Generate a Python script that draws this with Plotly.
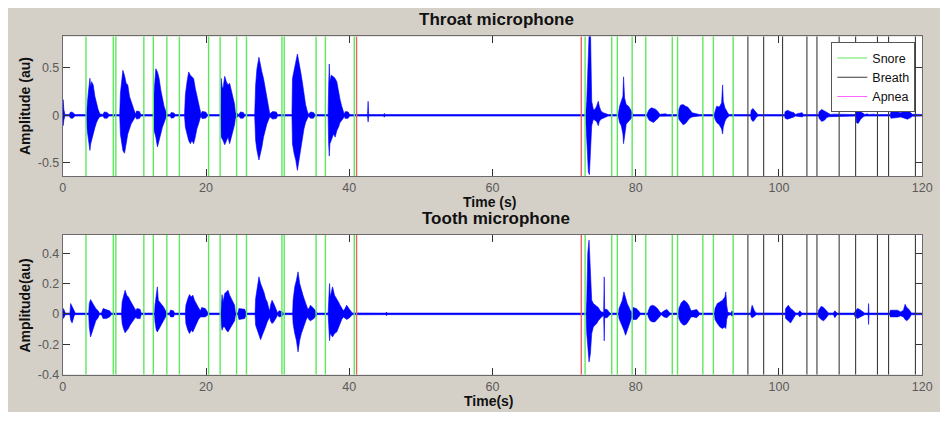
import plotly.graph_objects as go

# Page: the browser's default 8px body margin supplies the white border at
# the top and left, so the figure itself is the grey MATLAB panel.
W, H = 940, 404
OFF = 8  # body margin (px)

# ---------------- data ----------------
# Throat microphone amplitude envelope: time (s), upper and lower bound (au)
throat_t = [0.0, 0.05, 0.15, 0.3, 0.9, 1.1, 1.4, 1.7,
            3.3, 3.4, 3.56, 3.79, 3.9, 4.02, 4.25, 4.48, 4.71, 4.94, 5.17,
            5.6, 5.8, 6.2, 6.45,
            7.95, 8.05, 8.16, 8.39, 8.62, 8.85, 9.08, 9.31, 9.54, 9.77, 10.0, 10.15,
            10.3, 10.7, 10.9,
            12.65, 12.76, 12.99, 13.22, 13.45, 13.68, 13.91, 14.14, 14.37, 14.5,
            15.0, 15.15, 15.5, 15.7,
            17.0, 17.12, 17.35, 17.58, 17.81, 18.04, 18.27, 18.5, 18.72, 18.95, 19.18, 19.3,
            19.45, 19.95, 20.2,
            22.05, 22.12, 22.25, 22.38, 22.61, 22.84, 23.07, 23.3, 23.52, 23.75, 23.98, 24.1,
            24.6, 24.8, 25.2, 25.4,
            26.8, 26.93, 27.11, 27.39, 27.57, 27.8, 28.03, 28.26, 28.49, 28.72, 28.9,
            29.3, 29.8, 30.0,
            32.0, 32.07, 32.3, 32.53, 32.76, 32.99, 33.22, 33.44, 33.67, 33.9, 34.13, 34.3,
            34.6, 35.0, 35.2,
            37.05, 37.12, 37.21, 37.3, 37.48, 37.8, 38.03, 38.26, 38.49, 38.72, 38.95, 39.18, 39.3,
            39.45, 39.85, 40.05,
            42.55, 42.63, 42.72, 44.8, 44.9, 45.0,
            73.0, 73.16, 73.3, 73.39, 73.53, 73.67, 73.76, 73.85, 74.08, 74.31, 74.54, 74.77,
            74.91, 75.14, 75.46, 75.92, 76.15,
            77.55, 77.62, 77.75, 77.98, 78.21, 78.3, 78.44, 78.67, 78.99, 79.27, 79.5, 79.65,
            81.6, 81.65, 81.88, 82.2, 82.48, 82.8, 83.12, 83.35, 84.2, 84.4,
            85.95, 86.02, 86.25, 86.62, 86.94, 87.26, 87.53, 87.86, 88.77, 88.9,
            90.95, 91.07, 91.3, 91.67, 91.99, 92.13, 92.22, 92.45, 92.68, 92.91, 93.05,
            96.05, 96.12, 96.35, 96.58, 96.8, 97.03, 97.2,
            100.8, 100.85, 101.17, 101.63, 102.09, 102.3, 102.55, 103.24, 103.4,
            105.55, 105.6, 105.97, 106.35, 106.67, 106.99, 107.2, 107.6, 108.04, 108.2,
            110.75, 110.81, 111.05, 111.41, 111.73, 112.0, 112.33, 112.5, 113.3, 113.45,
            115.55, 115.63, 116.1, 116.55, 117.01, 117.47, 117.93, 118.39, 118.62, 120.0]
throat_up = [0.008, 0.165, 0.06, 0.008, 0.008, 0.035, 0.03, 0.008,
             0.008, 0.15, 0.234, 0.39, 0.3, 0.354, 0.32, 0.2, 0.11, 0.06, 0.015,
             0.008, 0.035, 0.03, 0.008,
             0.008, 0.234, 0.32, 0.474, 0.42, 0.337, 0.32, 0.2, 0.148, 0.096, 0.045, 0.012,
             0.045, 0.04, 0.008,
             0.008, 0.25, 0.49, 0.457, 0.388, 0.268, 0.165, 0.096, 0.045, 0.01,
             0.008, 0.03, 0.025, 0.008,
             0.008, 0.216, 0.354, 0.457, 0.423, 0.405, 0.388, 0.285, 0.2, 0.113, 0.045, 0.01,
             0.04, 0.035, 0.008,
             0.008, 0.39, 0.3, 0.285, 0.41, 0.354, 0.32, 0.337, 0.268, 0.2, 0.12, 0.03,
             0.008, 0.035, 0.03, 0.008,
             0.008, 0.32, 0.49, 0.612, 0.526, 0.457, 0.388, 0.285, 0.165, 0.079, 0.015,
             0.04, 0.035, 0.008,
             0.008, 0.388, 0.491, 0.56, 0.646, 0.526, 0.457, 0.354, 0.216, 0.113, 0.045, 0.01,
             0.035, 0.03, 0.008,
             0.008, 0.3, 0.54, 0.354, 0.423, 0.405, 0.388, 0.354, 0.251, 0.165, 0.096, 0.038, 0.01,
             0.04, 0.035, 0.008,
             0.008, 0.148, 0.008, 0.008, 0.02, 0.008,
             0.008, 0.148, 0.7, 0.95, 0.95, 0.95, 0.491, 0.148, 0.062, 0.062, 0.096, 0.148,
             0.096, 0.045, 0.027, 0.017, 0.008,
             0.008, 0.045, 0.096, 0.148, 0.2, 0.405, 0.182, 0.113, 0.096, 0.062, 0.027, 0.008,
             0.008, 0.027, 0.062, 0.079, 0.072, 0.062, 0.038, 0.01, 0.015, 0.008,
             0.008, 0.062, 0.107, 0.113, 0.096, 0.086, 0.062, 0.027, 0.01, 0.008,
             0.008, 0.045, 0.096, 0.086, 0.131, 0.32, 0.148, 0.079, 0.038, 0.017, 0.008,
             0.008, 0.052, 0.072, 0.052, 0.027, 0.01, 0.008,
             0.008, 0.038, 0.052, 0.038, 0.027, 0.008, 0.017, 0.027, 0.008,
             0.008, 0.038, 0.062, 0.045, 0.027, 0.017, 0.008, 0.012, 0.012, 0.008,
             0.008, 0.107, 0.062, 0.038, 0.017, 0.008, 0.015, 0.008, 0.012, 0.008,
             0.008, 0.038, 0.045, 0.038, 0.027, 0.045, 0.052, 0.027, 0.01, 0.008]
throat_lo = [-0.008, -0.11, -0.05, -0.008, -0.008, -0.03, -0.03, -0.008,
             -0.008, -0.15, -0.265, -0.37, -0.3, -0.265, -0.196, -0.13, -0.075, -0.04, -0.015,
             -0.008, -0.03, -0.03, -0.008,
             -0.008, -0.2, -0.265, -0.37, -0.4, -0.3, -0.196, -0.144, -0.093, -0.058, -0.03, -0.012,
             -0.04, -0.035, -0.008,
             -0.008, -0.162, -0.23, -0.333, -0.265, -0.196, -0.127, -0.075, -0.031, -0.01,
             -0.008, -0.03, -0.025, -0.008,
             -0.008, -0.127, -0.196, -0.265, -0.299, -0.265, -0.299, -0.23, -0.144, -0.093, -0.031, -0.01,
             -0.035, -0.03, -0.008,
             -0.008, -0.23, -0.25, -0.265, -0.31, -0.265, -0.23, -0.299, -0.23, -0.18, -0.1, -0.03,
             -0.008, -0.03, -0.03, -0.008,
             -0.008, -0.265, -0.368, -0.471, -0.419, -0.333, -0.23, -0.162, -0.093, -0.05, -0.015,
             -0.04, -0.035, -0.008,
             -0.008, -0.299, -0.402, -0.471, -0.58, -0.505, -0.368, -0.265, -0.144, -0.075, -0.041, -0.01,
             -0.03, -0.03, -0.008,
             -0.008, -0.3, -0.43, -0.299, -0.265, -0.196, -0.23, -0.162, -0.127, -0.075, -0.058, -0.03, -0.01,
             -0.035, -0.03, -0.008,
             -0.008, -0.07, -0.008, -0.008, -0.02, -0.008,
             -0.008, -0.127, -0.471, -0.6, -0.625, -0.54, -0.299, -0.11, -0.041, -0.05, -0.065, -0.11,
             -0.065, -0.041, -0.024, -0.015, -0.008,
             -0.008, -0.031, -0.075, -0.11, -0.196, -0.299, -0.196, -0.093, -0.065, -0.041, -0.024, -0.008,
             -0.008, -0.02, -0.052, -0.065, -0.075, -0.058, -0.031, -0.01, -0.015, -0.008,
             -0.008, -0.041, -0.065, -0.1, -0.086, -0.058, -0.031, -0.017, -0.01, -0.008,
             -0.008, -0.041, -0.075, -0.1, -0.144, -0.196, -0.127, -0.065, -0.031, -0.017, -0.008,
             -0.008, -0.041, -0.065, -0.052, -0.024, -0.01, -0.008,
             -0.008, -0.031, -0.041, -0.031, -0.017, -0.008, -0.015, -0.017, -0.008,
             -0.008, -0.031, -0.065, -0.052, -0.024, -0.015, -0.008, -0.012, -0.012, -0.008,
             -0.008, -0.075, -0.086, -0.041, -0.017, -0.008, -0.012, -0.008, -0.012, -0.008,
             -0.008, -0.031, -0.031, -0.024, -0.017, -0.031, -0.041, -0.024, -0.01, -0.008]

# Tooth microphone amplitude envelope
tooth_t = [0.0, 0.1, 0.35, 1.0, 1.1, 1.3, 1.6, 1.75,
           3.62, 3.7, 3.88, 4.11, 4.34, 4.61, 4.94, 5.1,
           5.4, 5.63, 6.08, 6.54, 6.77,
           8.2, 8.29, 8.47, 8.7, 8.93, 9.16, 9.39, 9.66, 9.94, 10.22,
           10.35, 10.8, 10.95,
           12.82, 12.88, 13.06, 13.2, 13.34, 13.52, 13.8, 14.07, 14.35, 14.5,
           14.9, 15.05, 15.45, 15.6,
           17.12, 17.19, 17.47, 17.7, 17.93, 18.16, 18.39, 18.66, 18.94, 19.22,
           19.4, 19.9, 20.3,
           22.08, 22.15, 22.24, 22.38, 22.61, 22.84, 23.07, 23.3, 23.53, 23.76, 23.99, 24.1,
           24.45, 24.6, 25.4, 25.65,
           26.85, 26.93, 27.11, 27.39, 27.62, 27.85, 28.08, 28.31, 28.54, 28.77, 28.9,
           29.0, 29.22, 29.45, 29.68, 29.86, 30.0, 30.2, 30.6, 30.75,
           32.1, 32.16, 32.39, 32.62, 32.85, 33.08, 33.31, 33.54, 33.77, 34.0, 34.22,
           34.36, 34.59, 35.05, 35.37, 35.5,
           37.05, 37.12, 37.25, 37.35, 37.67, 37.94, 38.26, 38.49, 38.72, 38.95, 39.18,
           39.41, 39.64, 40.05, 40.42,
           45.1, 45.2, 45.3,
           73.08, 73.16, 73.3, 73.48, 73.67, 73.85, 74.08, 74.31, 74.54, 74.77, 75.0, 75.22,
           75.52, 75.6, 75.66, 76.0, 76.38,
           77.6, 77.67, 77.9, 78.13, 78.35, 78.58, 78.81, 79.04, 79.27, 79.5,
           79.6, 80.1, 80.65,
           81.7, 81.75, 82.02, 82.35, 82.67, 83.04, 83.4, 83.55,
           83.95, 84.35, 84.78,
           85.95, 86.02, 86.34, 86.71, 87.07, 87.4, 87.72,
           88.08, 88.5, 88.9,
           91.0, 91.07, 91.39, 91.76, 92.12, 92.45, 92.58, 92.7, 92.85, 93.3, 93.45, 93.6,
           96.05, 96.12, 96.25, 96.57, 96.8,
           100.88, 100.93, 101.3, 101.62, 101.95, 102.31, 102.7, 102.9, 103.2,
           105.48, 105.53, 105.9, 106.22, 106.54, 106.91, 107.6, 107.8, 108.1,
           110.52, 110.58, 110.95, 111.27, 111.59, 111.96,
           112.45, 112.51, 112.57,
           115.48, 115.54, 116.1, 116.55, 117.0,
           117.38, 117.61, 117.84, 118.16, 118.48, 120.0]
tooth_up = [0.005, 0.035, 0.005, 0.005, 0.068, 0.045, 0.01, 0.005,
            0.005, 0.068, 0.094, 0.079, 0.057, 0.035, 0.02, 0.005,
            0.005, 0.035, 0.029, 0.02, 0.005,
            0.005, 0.079, 0.123, 0.156, 0.123, 0.112, 0.09, 0.068, 0.046, 0.02,
            0.035, 0.03, 0.005,
            0.005, 0.057, 0.112, 0.178, 0.09, 0.079, 0.068, 0.046, 0.02, 0.005,
            0.005, 0.025, 0.02, 0.005,
            0.005, 0.057, 0.101, 0.127, 0.112, 0.123, 0.09, 0.063, 0.042, 0.02,
            0.042, 0.035, 0.005,
            0.005, 0.09, 0.127, 0.079, 0.134, 0.145, 0.156, 0.123, 0.101, 0.079, 0.057, 0.01,
            0.005, 0.035, 0.03, 0.005,
            0.005, 0.101, 0.167, 0.244, 0.2, 0.178, 0.145, 0.101, 0.079, 0.035, 0.02,
            0.057, 0.09, 0.068, 0.042, 0.02, 0.005, 0.02, 0.015, 0.005,
            0.005, 0.09, 0.178, 0.222, 0.277, 0.2, 0.156, 0.123, 0.09, 0.057, 0.03,
            0.035, 0.057, 0.035, 0.013, 0.005,
            0.005, 0.09, 0.2, 0.112, 0.178, 0.123, 0.101, 0.079, 0.057, 0.035, 0.02,
            0.035, 0.057, 0.029, 0.006,
            0.005, 0.012, 0.005,
            0.005, 0.09, 0.398, 0.486, 0.31, 0.09, 0.068, 0.057, 0.046, 0.042, 0.024, 0.013,
            0.01, 0.244, 0.03, 0.029, 0.005,
            0.005, 0.035, 0.068, 0.09, 0.145, 0.101, 0.068, 0.046, 0.02, 0.01,
            0.042, 0.035, 0.005,
            0.005, 0.02, 0.05, 0.057, 0.05, 0.035, 0.01, 0.005,
            0.02, 0.029, 0.005,
            0.005, 0.035, 0.072, 0.09, 0.079, 0.057, 0.02,
            0.024, 0.029, 0.005,
            0.005, 0.035, 0.068, 0.079, 0.09, 0.112, 0.145, 0.057, 0.01, 0.005, 0.02, 0.005,
            0.005, 0.029, 0.057, 0.02, 0.006,
            0.005, 0.035, 0.057, 0.035, 0.024, 0.006, 0.005, 0.02, 0.005,
            0.005, 0.024, 0.05, 0.042, 0.024, 0.006, 0.005, 0.02, 0.005,
            0.005, 0.013, 0.035, 0.029, 0.02, 0.005,
            0.005, 0.068, 0.005,
            0.005, 0.024, 0.024, 0.024, 0.013,
            0.024, 0.063, 0.042, 0.029, 0.006, 0.005]
tooth_lo = [-0.005, -0.03, -0.005, -0.005, -0.04, -0.06, -0.01, -0.005,
            -0.005, -0.086, -0.152, -0.108, -0.086, -0.046, -0.025, -0.005,
            -0.005, -0.031, -0.031, -0.02, -0.005,
            -0.005, -0.064, -0.097, -0.125, -0.108, -0.097, -0.075, -0.053, -0.037, -0.02,
            -0.031, -0.031, -0.005,
            -0.005, -0.053, -0.108, -0.119, -0.108, -0.097, -0.075, -0.046, -0.02, -0.005,
            -0.005, -0.02, -0.02, -0.005,
            -0.005, -0.064, -0.108, -0.13, -0.108, -0.119, -0.097, -0.064, -0.037, -0.02,
            -0.02, -0.02, -0.005,
            -0.005, -0.075, -0.108, -0.086, -0.086, -0.108, -0.119, -0.097, -0.086, -0.064, -0.046, -0.01,
            -0.005, -0.037, -0.031, -0.005,
            -0.005, -0.075, -0.108, -0.141, -0.17, -0.141, -0.108, -0.086, -0.053, -0.031, -0.02,
            -0.046, -0.064, -0.053, -0.037, -0.02, -0.005, -0.02, -0.015, -0.005,
            -0.005, -0.064, -0.13, -0.174, -0.251, -0.174, -0.13, -0.097, -0.064, -0.037, -0.02,
            -0.037, -0.046, -0.031, -0.016, -0.005,
            -0.005, -0.064, -0.177, -0.13, -0.152, -0.13, -0.119, -0.086, -0.064, -0.037, -0.02,
            -0.031, -0.037, -0.025, -0.006,
            -0.005, -0.012, -0.005,
            -0.005, -0.13, -0.218, -0.317, -0.262, -0.13, -0.086, -0.075, -0.064, -0.046, -0.031, -0.02,
            -0.01, -0.178, -0.025, -0.025, -0.005,
            -0.005, -0.031, -0.064, -0.086, -0.108, -0.141, -0.108, -0.075, -0.046, -0.02,
            -0.037, -0.037, -0.005,
            -0.005, -0.02, -0.046, -0.053, -0.053, -0.037, -0.016, -0.005,
            -0.02, -0.025, -0.005,
            -0.005, -0.031, -0.06, -0.075, -0.068, -0.046, -0.02,
            -0.02, -0.025, -0.005,
            -0.005, -0.037, -0.064, -0.086, -0.097, -0.086, -0.097, -0.037, -0.01, -0.005, -0.016, -0.005,
            -0.005, -0.02, -0.025, -0.016, -0.006,
            -0.005, -0.031, -0.046, -0.06, -0.031, -0.006, -0.005, -0.02, -0.005,
            -0.005, -0.02, -0.037, -0.046, -0.031, -0.006, -0.005, -0.025, -0.005,
            -0.005, -0.016, -0.031, -0.025, -0.016, -0.005,
            -0.005, -0.07, -0.005,
            -0.005, -0.02, -0.02, -0.02, -0.013,
            -0.02, -0.037, -0.046, -0.031, -0.006, -0.005]

# Event markers (s)
snore_t = [3.24, 7.05, 7.41, 11.32, 12.64, 14.53, 16.28, 20.36, 21.97, 24.27, 25.65,
           30.6, 30.92, 35.37, 36.67, 40.7, 72.93, 76.65, 77.43, 79.5, 81.4, 85.1,
           85.84, 89.37, 90.84, 93.6]
breath_t = [95.66, 97.86, 100.5, 103.9, 105.3, 108.4, 110.7, 113.75, 115.3, 119.05]
apnea_t = [41.02, 72.4]

x_ticks = [0, 20, 40, 60, 80, 100, 120]
x_ticktext = ["0", "20", "40", "60", "80", "100", "120"]
throat_yticks = [-0.5, 0, 0.5]
throat_yticktext = ["-0.5", "0", "0.5"]
tooth_yticks = [-0.4, -0.2, 0, 0.2, 0.4]
tooth_yticktext = ["-0.4", "-0.2", "0", "0.2", "0.4"]

# ---------------- figure ----------------
FONT = "Liberation Sans, Arial, sans-serif"
BLUE = "#0000ff"
SNORE_C = "#5ee85e"
BREATH_C = "#3a3a3a"
APNEA_LINE_C = "#f06060"
APNEA_LEG_C = "#ff66ff"
PANEL = "#d4d0c8"


def px(x):
    """page pixel x -> paper fraction"""
    return (x - OFF) / W


def py(y):
    """page pixel y -> paper fraction"""
    return 1 - (y - OFF) / H


fig = go.Figure()

for t, up, lo, xa, ya in [(throat_t, throat_up, throat_lo, "x", "y"),
                          (tooth_t, tooth_up, tooth_lo, "x2", "y2")]:
    xs = list(t) + list(reversed(t))
    ys = list(up) + list(reversed(lo))
    fig.add_trace(go.Scatter(x=xs, y=ys, mode="lines", fill="toself",
                             fillcolor=BLUE, line=dict(color=BLUE, width=0.6),
                             xaxis=xa, yaxis=ya, showlegend=False, hoverinfo="skip"))

for name, col in [("Snore", SNORE_C), ("Breath", BREATH_C), ("Apnea", APNEA_LEG_C)]:
    fig.add_trace(go.Scatter(x=[None], y=[None], mode="lines", name=name,
                             line=dict(color=col, width=1.2), xaxis="x", yaxis="y"))

shapes = []
for xa, ya in [("x", "y domain"), ("x2", "y2 domain")]:
    for times, col, wd in [(snore_t, SNORE_C, 1.4), (breath_t, BREATH_C, 1.1),
                           (apnea_t, APNEA_LINE_C, 1.4)]:
        for t in times:
            shapes.append(dict(type="line", xref=xa, yref=ya, x0=t, x1=t, y0=0, y1=1,
                               line=dict(color=col, width=wd), layer="above"))

xdom = [px(60.5), px(932)]
axis_common = dict(showline=True, linecolor="#6a6a6a", linewidth=1, mirror="ticks",
                   ticks="inside", ticklen=7, tickcolor="#333333", tickwidth=1,
                   showgrid=False, zeroline=False, ticklabeloverflow="allow",
                   tickfont=dict(family=FONT, size=12.5, color="#5a5a5a"))

fig.update_layout(
    width=W, height=H, autosize=False,
    margin=dict(l=0, r=0, t=0, b=0),
    paper_bgcolor=PANEL, plot_bgcolor="white",
    font=dict(family=FONT),
    xaxis=dict(domain=xdom, range=[0, 120], anchor="y", tickvals=x_ticks,
               ticktext=x_ticktext, ticklabelstandoff=0, **axis_common),
    yaxis=dict(domain=[py(179), py(37)], range=[-0.64, 0.83], anchor="x",
               tickvals=throat_yticks, ticktext=throat_yticktext, **axis_common),
    xaxis2=dict(domain=xdom, range=[0, 120], anchor="y2", tickvals=x_ticks,
                ticktext=x_ticktext, ticklabelstandoff=0, **axis_common),
    yaxis2=dict(domain=[py(381), py(239)], range=[-0.4, 0.52], anchor="x2",
                tickvals=tooth_yticks, ticktext=tooth_yticktext, **axis_common),
    legend=dict(x=px(925), y=py(43), xanchor="right", yanchor="top",
                bgcolor="white", bordercolor="#555555", borderwidth=1,
                font=dict(family=FONT, size=12.5, color="#111111"),
                itemwidth=30, tracegroupgap=0),
    shapes=shapes,
    showlegend=True,
)

ann_font_title = dict(family=FONT, size=17, color="#111111")
ann_font_lab = dict(family=FONT, size=14, color="#111111")
annotations = [
    dict(text="<b>Throat microphone</b>", x=px(500), y=py(20), font=ann_font_title),
    dict(text="<b>Tooth microphone</b>", x=px(500), y=py(222), font=ann_font_title),
    dict(text="<b>Time (s)</b>", x=px(493), y=py(205), font=ann_font_lab),
    dict(text="<b>Time(s)</b>", x=px(493), y=py(408), font=ann_font_lab),
    dict(text="<b>Amplitude (au)</b>", x=px(22), y=py(108), font=ann_font_lab, textangle=-90),
    dict(text="<b>Amplitude(au)</b>", x=px(22), y=py(311), font=ann_font_lab, textangle=-90),
]
for a in annotations:
    a.update(xref="paper", yref="paper", showarrow=False, xanchor="center", yanchor="middle")
fig.update_layout(annotations=annotations)

fig.write_html("out.html", config={"displayModeBar": False})
